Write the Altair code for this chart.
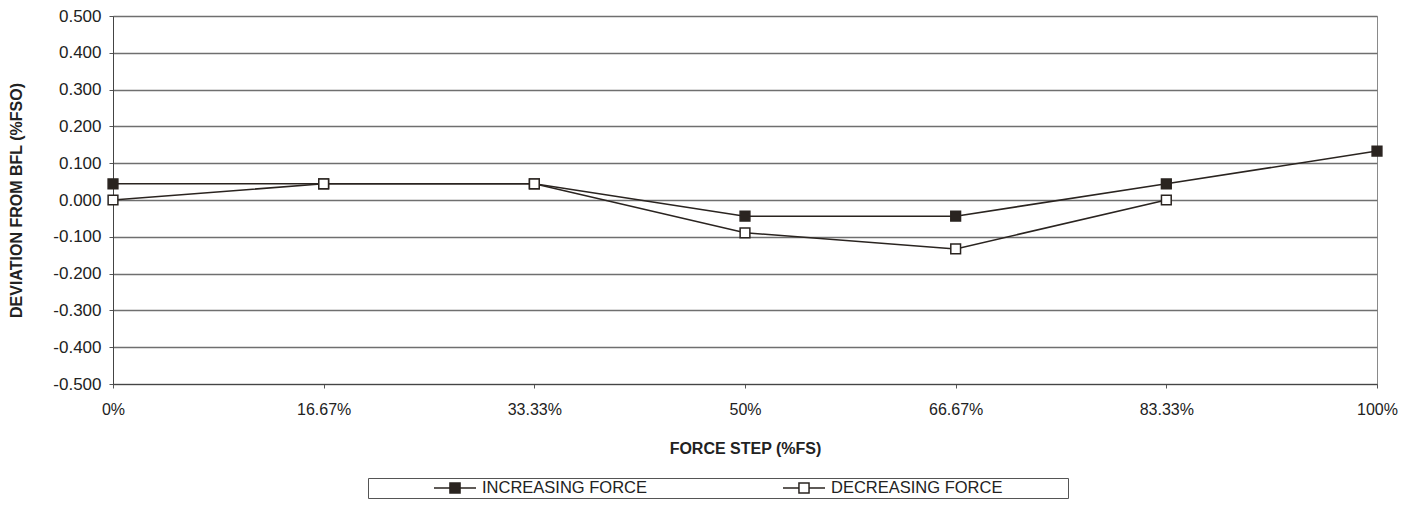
import altair as alt
import pandas as pd

steps = ["0%", "16.67%", "33.33%", "50%", "66.67%", "83.33%", "100%"]
increasing = [0.044, 0.044, 0.044, -0.044, -0.044, 0.044, 0.133]
decreasing = [0.000, 0.044, 0.044, -0.089, -0.133, 0.000]
series_names = ["INCREASING FORCE", "DECREASING FORCE"]
y_ticks = [-0.5, -0.4, -0.3, -0.2, -0.1, 0.0, 0.1, 0.2, 0.3, 0.4, 0.5]

rows = []
for s, v in zip(steps, increasing):
    rows.append({"step": s, "dev": v, "series": series_names[0]})
for s, v in zip(steps, decreasing):
    rows.append({"step": s, "dev": v, "series": series_names[1]})
df = pd.DataFrame(rows)

INK = "#2a2420"
FONT = "Liberation Sans"

x_enc = alt.X(
    "step:O",
    sort=steps,
    scale=alt.Scale(type="point", padding=0),
    axis=alt.Axis(
        title="FORCE STEP (%FS)",
        labelAngle=0,
        labelFontSize=16,
        labelFont=FONT,
        labelColor="#222",
        labelPadding=13,
        tickSize=4,
        tickColor="#555",
        domainColor="#444",
        gridColor="#8a8a8a",
        gridWidth=1,
        titleFont=FONT,
        titleFontSize=16,
        titleFontWeight="bold",
        titleColor="#222",
        titlePadding=23,
    ),
)
y_enc = alt.Y(
    "dev:Q",
    scale=alt.Scale(domain=[-0.5, 0.5], nice=False, zero=False),
    axis=alt.Axis(
        title="DEVIATION FROM BFL (%FSO)",
        values=y_ticks,
        format=".3f",
        labelExpr="replace(datum.label, '\u2212', '-')",
        labelFontSize=17,
        labelFont=FONT,
        labelColor="#222",
        labelPadding=8,
        tickSize=4,
        tickColor="#555",
        domainColor="#444",
        gridColor="#6f6f6f",
        gridWidth=1.3,
        titleFont=FONT,
        titleFontSize=16,
        titleFontWeight="bold",
        titleColor="#222",
        titlePadding=28,
    ),
)

lines = alt.Chart(df).mark_line(color=INK, strokeWidth=1.6).encode(
    x=x_enc, y=y_enc, detail="series:N"
)

legend_path = "M-1,0H-0.24M0.24,0H1M-0.24,-0.24H0.24V0.24H-0.24Z"

points = alt.Chart(df).mark_point(
    shape="square", filled=True, size=95, stroke=INK, strokeWidth=1.5, opacity=1
).encode(
    x=x_enc,
    y=y_enc,
    fill=alt.Fill(
        "series:N",
        sort=series_names,
        scale=alt.Scale(domain=series_names, range=[INK, "white"]),
        legend=alt.Legend(
            title=" ",
            titleFontSize=1,
            titleOrient="right",
            titlePadding=65,
            orient="none",
            legendX=255,
            legendY=462,
            direction="horizontal",
            columns=2,
            columnPadding=70,
            symbolOffset=64,
            symbolType=legend_path,
            symbolSize=1764,
            symbolStrokeColor=INK,
            symbolStrokeWidth=1.5,
            symbolOpacity=1,
            clipHeight=18,
            labelFont=FONT,
            labelFontSize=16.5,
            labelColor="#222",
            labelOffset=5,
            labelLimit=300,
            padding=1,
            strokeColor="#555",
            fillColor="white",
        ),
    ),
)

chart = (
    alt.layer(lines, points)
    .properties(
        width=1264,
        height=368,
        autosize=alt.AutoSizeParams(type="none"),
        padding={"left": 105, "top": 8, "right": 30, "bottom": 115},
        background="white",
    )
    .configure_view(stroke="#8a8a8a", strokeWidth=1)
)

chart.save("out.html", embed_options={"renderer": "svg", "actions": False})
